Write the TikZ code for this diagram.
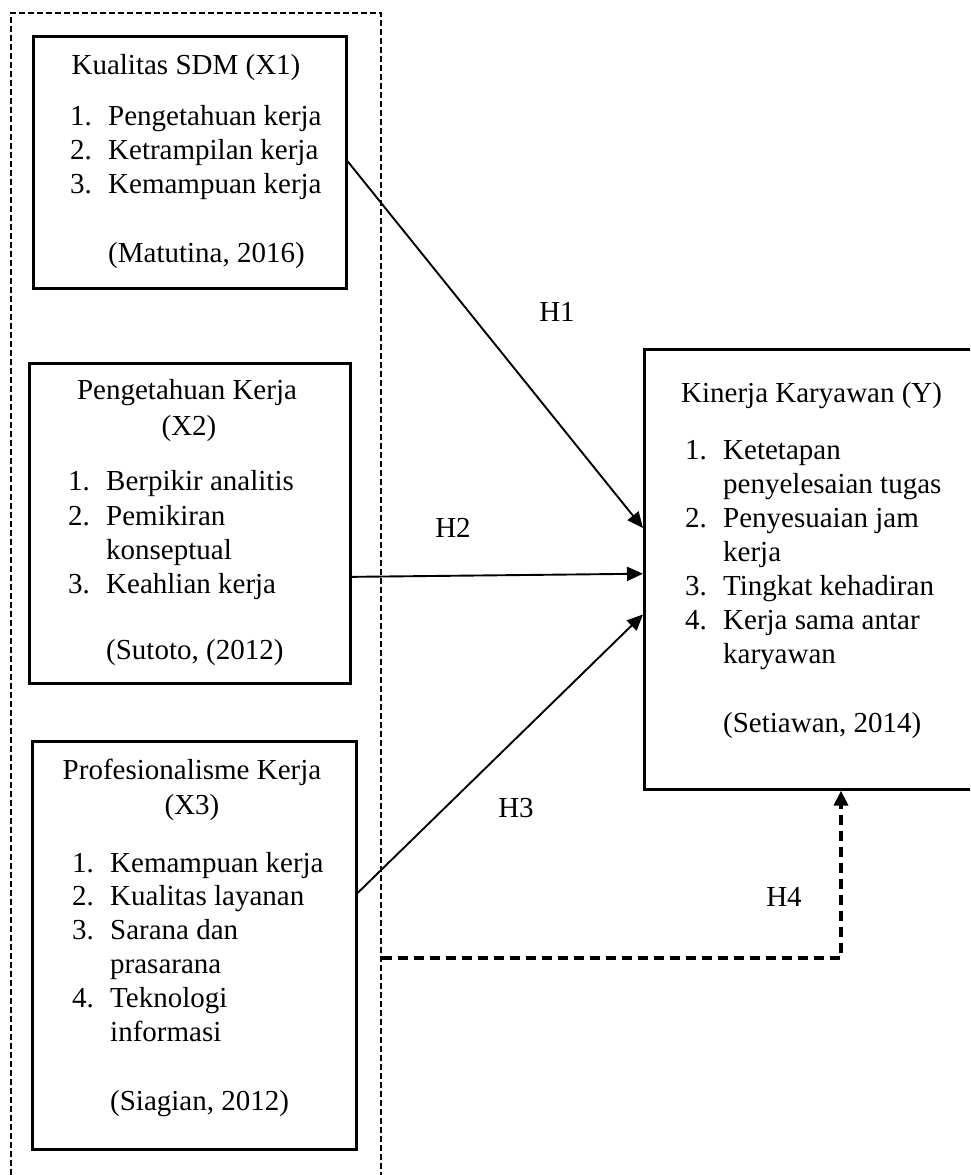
\documentclass[tikz,border=0pt]{standalone}
\usepackage{fontspec}
\setmainfont{Liberation Serif}
\usetikzlibrary{arrows.meta,calc}
\newcommand{\nr}[1]{\makebox[38pt][l]{#1}}

\tikzset{
    varbox/.style={draw, line width=2.6pt, rectangle, inner sep=0pt},
    outerframe/.style={draw, rectangle, inner sep=0pt, line width=1.8pt, dash pattern=on 6pt off 3pt},
    txt/.style={anchor=west, inner sep=0pt, text height=20pt, text depth=6pt, font=\fontsize{29}{34}\selectfont},
    ttl/.style={txt, anchor=center},
    hyp/.style={line width=1.9pt, -{Triangle[length=16pt,width=14pt]}},
    moder/.style={line width=3.4pt, dash pattern=on 10pt off 6pt, -{Triangle[length=15pt,width=14pt]}}
}

\begin{document}
\begin{tikzpicture}[x=1pt,y=-1pt]
            \useasboundingbox (0,0) rectangle (970,1175);
            \clip (0,0) rectangle (970,1175);

            % group of independent variables
            \node[outerframe, minimum width=370pt, minimum height=1200pt, anchor=north west] (grp) at (10,12) {};

            \node[varbox, minimum width=313pt, minimum height=252pt, anchor=north west] (x1) at (32,35) {};
            \node[varbox, minimum width=321pt, minimum height=320pt, anchor=north west] (x2) at (28,362) {};
            \node[varbox, minimum width=324pt, minimum height=408pt, anchor=north west] (x3) at (31,740) {};
            \node[varbox, minimum width=360pt, minimum height=440pt, anchor=north west] (ky) at (643,348) {};

            % X1
            \node[ttl] (x1t) at (186,67) {Kualitas SDM (X1)};
            \node[txt] (x1a) at (70,118) {\nr{1.}Pengetahuan kerja};
            \node[txt] (x1b) at (70,152) {\nr{2.}Ketrampilan kerja};
            \node[txt] (x1c) at (70,186) {\nr{3.}Kemampuan kerja};
            \node[txt] (x1s) at (108,255) {(Matutina, 2016)};

            % X2
            \node[ttl] (x2t) at (187,392) {Pengetahuan Kerja};
            \node[ttl] (x2u) at (189,428) {(X2)};
            \node[txt] (x2a) at (68,483) {\nr{1.}Berpikir analitis};
            \node[txt] (x2b) at (68,518) {\nr{2.}Pemikiran};
            \node[txt] (x2c) at (68,552) {\nr{}konseptual};
            \node[txt] (x2d) at (68,586) {\nr{3.}Keahlian kerja};
            \node[txt] (x2s) at (106,652) {(Sutoto, (2012)};

            % X3
            \node[ttl] (x3t) at (192,772) {Profesionalisme Kerja};
            \node[ttl] (x3u) at (192,807) {(X3)};
            \node[txt] (x3a) at (72,865) {\nr{1.}Kemampuan kerja};
            \node[txt] (x3b) at (72,898) {\nr{2.}Kualitas layanan};
            \node[txt] (x3c) at (72,932) {\nr{3.}Sarana dan};
            \node[txt] (x3d) at (72,966) {\nr{}prasarana};
            \node[txt] (x3e) at (72,1000) {\nr{4.}Teknologi};
            \node[txt] (x3f) at (72,1034) {\nr{}informasi};
            \node[txt] (x3s) at (110,1103) {(Siagian, 2012)};

            % Y
            \node[txt] (kyt) at (681,395) {Kinerja Karyawan (Y)};
            \node[txt] (kya) at (685,452) {\nr{1.}Ketetapan};
            \node[txt] (kyb) at (685,486) {\nr{}penyelesaian tugas};
            \node[txt] (kyc) at (685,520) {\nr{2.}Penyesuaian jam};
            \node[txt] (kyd) at (685,554) {\nr{}kerja};
            \node[txt] (kye) at (685,588) {\nr{3.}Tingkat kehadiran};
            \node[txt] (kyf) at (685,622) {\nr{4.}Kerja sama antar};
            \node[txt] (kyg) at (685,656) {\nr{}karyawan};
            \node[txt] (kys) at (723,725) {(Setiawan, 2014)};

            % hypotheses
            \draw[hyp] ($(x1.north east)!0.496!(x1.south east)$) -- ($(ky.north west)!0.407!(ky.south west)$);
            \draw[hyp] ($(x2.north east)!0.666!(x2.south east)$) -- ($(ky.north west)!0.51!(ky.south west)$);
            \draw[hyp] ($(x3.north east)!0.3725!(x3.south east)$) -- ($(ky.north west)!0.602!(ky.south west)$);

            \coordinate (h4) at (841,958);
            \draw[moder] (grp.east |- h4) -- (h4) -- (h4 |- ky.south);

            \node[ttl] (h1) at (557,314) {H1};
            \node[ttl] (h2) at (453,530) {H2};
            \node[ttl] (h3) at (516,810) {H3};
            \node[ttl] (h4l) at (784,899) {H4};
\end{tikzpicture}
\end{document}
